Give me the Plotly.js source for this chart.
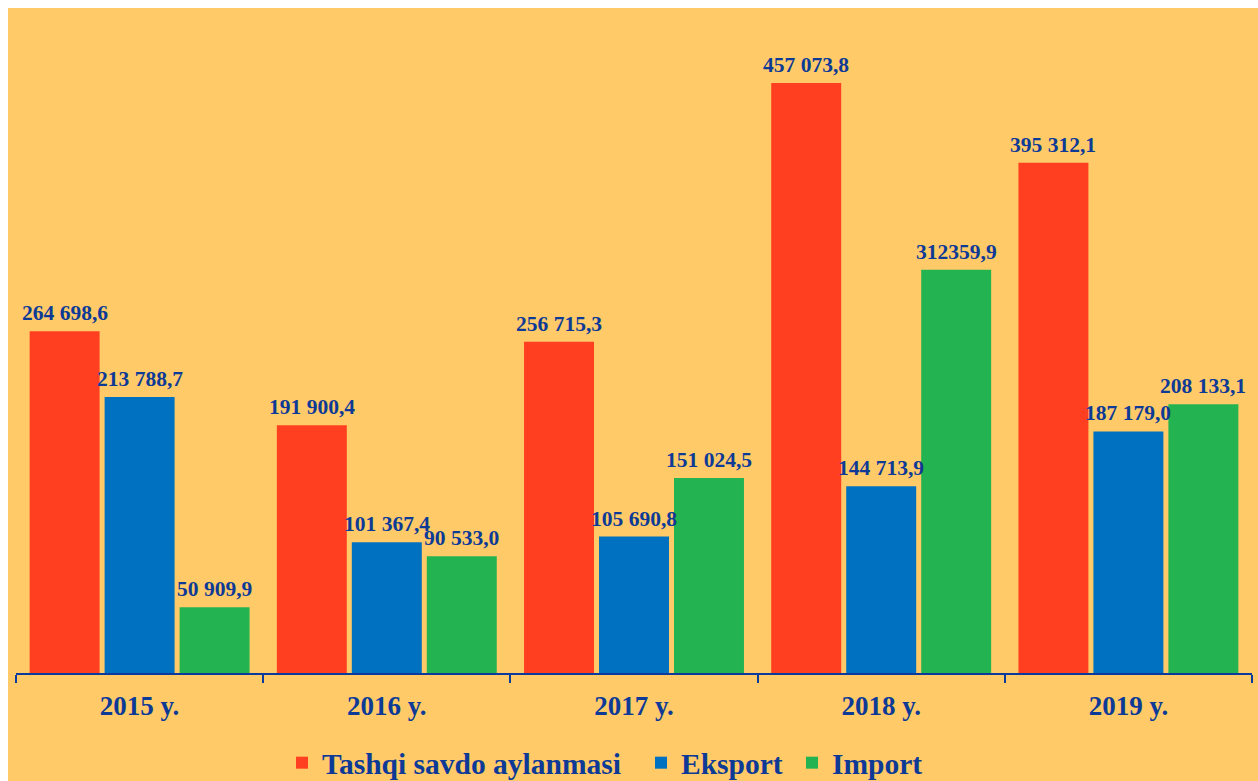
<!DOCTYPE html>
<html>
<head>
<meta charset="utf-8">
<script src="https://cdn.plot.ly/plotly-3.0.1.min.js"></script>
<style>html,body{margin:0;padding:0;background:#fff;}#chart{width:1258px;height:781px;}</style>
</head>
<body>
<div id="chart"></div>
<script>
const categories = ["2015 y.", "2016 y.", "2017 y.", "2018 y.", "2019 y."];
const seriesNames = ["Tashqi savdo aylanmasi", "Eksport", "Import"];
const turnover = [264698.6, 191900.4, 256715.3, 457073.8, 395312.1];
const exportVals = [213788.7, 101367.4, 105690.8, 144713.9, 187179.0];
const importVals = [50909.9, 90533.0, 151024.5, 312359.9, 208133.1];
const turnoverLabels = ["264 698,6", "191 900,4", "256 715,3", "457 073,8", "395 312,1"];
const exportLabels = ["213 788,7", "101 367,4", "105 690,8", "144 713,9", "187 179,0"];
const importLabels = ["50 909,9", "90 533,0", "151 024,5", "312359,9", "208 133,1"];

const colors = ["#FF3F1F", "#0070C0", "#24B351"];
const legendWidths = [314, 106, 92];
const textColor = "#0D3A96";
const fontFam = "'Liberation Serif', 'Times New Roman', serif";

const seriesVals = [turnover, exportVals, importVals];
const seriesLabels = [turnoverLabels, exportLabels, importLabels];

const traces = seriesVals.map((vals, i) => ({
  type: "bar",
  name: seriesNames[i],
  x: categories,
  y: vals,
  marker: {color: colors[i]},
  legendwidth: legendWidths[i],
  hoverinfo: "skip"
}));

const annotations = [];
seriesVals.forEach((vals, i) => {
  vals.forEach((v, j) => {
    annotations.push({
      x: categories[j], y: v, xref: "x", yref: "y",
      text: seriesLabels[i][j],
      showarrow: false,
      xanchor: "center", yanchor: "bottom",
      xshift: (i - 1) * 75, yshift: 4,
      font: {family: fontFam, size: 21.5, color: textColor, weight: "bold"}
    });
  });
});

const W = 1258, H = 781;
const L = 16, R = 6, T = 20, B = 108;
const pw = W - L - R, ph = H - T - B;

const layout = {
  width: W, height: H,
  margin: {l: L, r: R, t: T, b: B, pad: 0, autoexpand: false},
  paper_bgcolor: "#ffffff",
  plot_bgcolor: "rgba(0,0,0,0)",
  barmode: "group",
  bargap: 0.09,
  bargroupgap: 0.067,
  showlegend: true,
  font: {family: fontFam, color: textColor},
  xaxis: {
    type: "category",
    showline: true, linecolor: "#0B3A9C", linewidth: 2,
    ticks: "outside", tickson: "boundaries", ticklen: 8, tickwidth: 2, tickcolor: "#0B3A9C",
    tickfont: {family: fontFam, size: 27, color: textColor, weight: "bold"},
    ticklabelstandoff: 8,
    showgrid: false, zeroline: false, fixedrange: true
  },
  yaxis: {
    range: [0, 457073.8 * ph / 590],
    visible: false, showgrid: false, zeroline: false, fixedrange: true
  },
  legend: {
    orientation: "h",
    x: (282 - L) / pw, xanchor: "left",
    y: (673 - 763) / ph, yanchor: "middle",
    bgcolor: "rgba(0,0,0,0)",
    font: {family: fontFam, size: 29.5, color: textColor, weight: "bold"},
    itemclick: false, itemdoubleclick: false
  },
  shapes: [{
    type: "rect", layer: "below", xref: "paper", yref: "paper",
    x0: (8 - L) / pw, x1: (W - L) / pw,
    y0: (673 - H) / ph, y1: (673 - 8) / ph,
    fillcolor: "#FFCA67", line: {width: 0}
  }],
  annotations: annotations
};

Plotly.newPlot("chart", traces, layout, {displayModeBar: false, staticPlot: true});
</script>
</body>
</html>
